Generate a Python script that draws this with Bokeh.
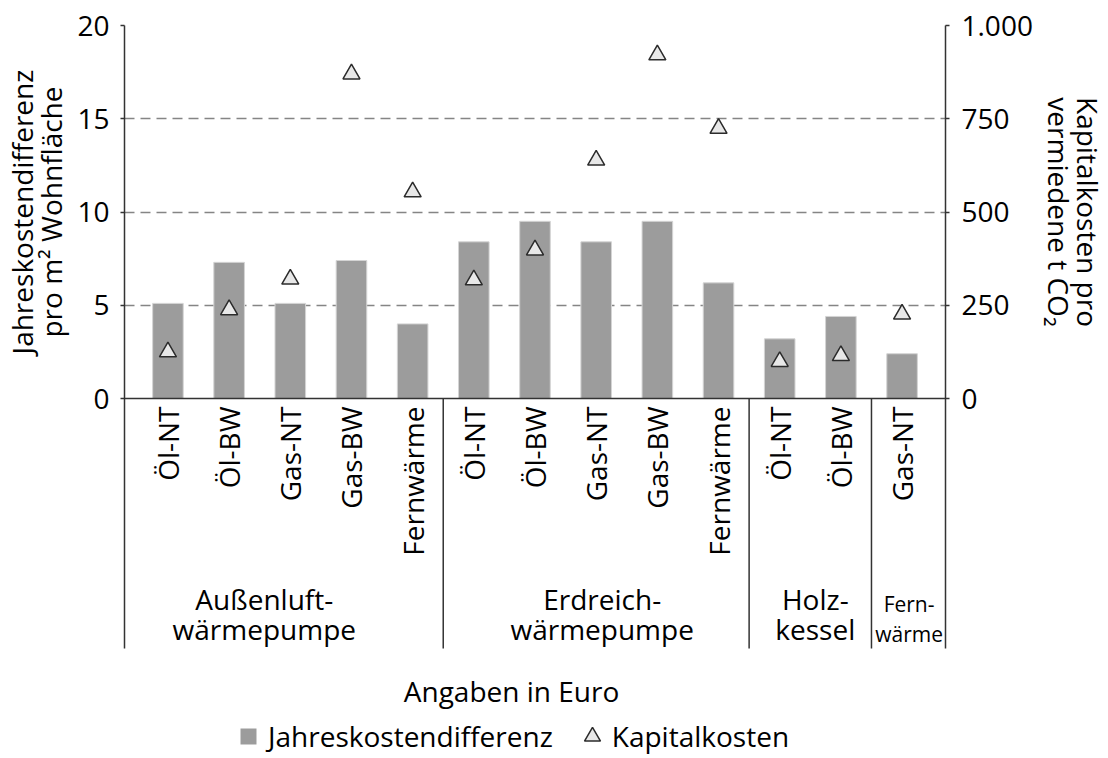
import math
from bokeh.plotting import figure
from bokeh.layouts import row
from bokeh.models import (FactorRange, Range1d, LinearAxis, FixedTicker, Span,
                          Label, Legend, LegendItem, ColumnDataSource)
from bokeh.core.properties import value
from bokeh.embed import file_html
from bokeh.resources import INLINE

# ---------------- data ----------------
groups = (["Außenluft-\nwärmepumpe"] * 5 + ["Erdreich-\nwärmepumpe"] * 5
          + ["Holz-\nkessel"] * 2 + ["Fern-\nwärme"])
heizungen = ["Öl-NT", "Öl-BW", "Gas-NT", "Gas-BW", "Fernwärme",
             "Öl-NT", "Öl-BW", "Gas-NT", "Gas-BW", "Fernwärme",
             "Öl-NT", "Öl-BW",
             "Gas-NT"]
jahreskostendifferenz = [5.1, 7.3, 5.1, 7.4, 4.0,
                         8.4, 9.5, 8.4, 9.5, 6.2,
                         3.2, 4.4,
                         2.4]
kapitalkosten = [125, 238, 320, 870, 554,
                 318, 398, 639, 921, 724,
                 99, 115,
                 226]
left_ticks = [0, 5, 10, 15, 20]
right_ticks = [0, 250, 500, 750, 1000]
right_tick_labels = ["0", "250", "500", "750", "1.000"]
left_title = "Jahreskostendifferenz\npro m² Wohnfläche"
right_title = "Kapitalkosten pro\nvermiedene t CO₂"
x_title = "Angaben in Euro"
legend_labels = ["Jahreskostendifferenz", "Kapitalkosten"]

# ---------------- layout constants (pixels) ----------------
FONT = "Open Sans"
FS = "28px"
AXIS_COLOR = "#333333"
BAR_COLOR = "#9c9c9c"
TRI_FILL = "#e8e8e8"
TRI_LINE = "#2b2b2b"
H = 756                    # total height
TOP = 25                   # frame top (value 20)
ZERO_PX = 398              # pixel row of value 0
SEP_PX = 648               # lower end of separators / axis lines
WL, WM, WR = 72, 968, 66   # widths: left title, main, right title
BL, BR = 52, 95            # borders of the main figure
HALF_PAD = 0.21
PXU = (ZERO_PX - TOP) / left_ticks[-1]          # pixels per unit (left axis)


def px_to_y(py):
    return (ZERO_PX - py) / PXU


Y_BOT = px_to_y(H)
Y_SEP = px_to_y(SEP_PX)
ratio = right_ticks[-1] / left_ticks[-1]

factors = list(zip(groups, heizungen))
source = ColumnDataSource(dict(x=factors, heizung=heizungen,
                               jk=jahreskostendifferenz, kk=kapitalkosten))

x_range = FactorRange(factors=factors, group_padding=0, factor_padding=0,
                      range_padding=HALF_PAD, range_padding_units="absolute")
y_range = Range1d(Y_BOT, left_ticks[-1])

# ================= main figure =================
p = figure(width=WM, height=H, x_range=x_range, y_range=y_range,
           output_backend="svg", toolbar_location=None, x_axis_location=None,
           min_border_left=BL, min_border_right=BR,
           min_border_top=TOP, min_border_bottom=0)
p.outline_line_color = None
p.extra_y_ranges = {"kap": Range1d(Y_BOT * ratio, right_ticks[-1])}

p.xgrid.visible = False
p.ygrid.ticker = FixedTicker(ticks=left_ticks[1:])
p.ygrid.grid_line_color = "#858585"
p.ygrid.grid_line_width = 1.5
p.ygrid.grid_line_dash = "10 6"


def style_axis(a, standoff):
    a.minor_tick_line_color = None
    a.major_tick_in = 0
    a.major_tick_out = 4
    a.axis_line_color = AXIS_COLOR
    a.axis_line_width = 1.5
    a.major_tick_line_color = AXIS_COLOR
    a.major_tick_line_width = 1.5
    a.major_label_text_font = FONT
    a.major_label_text_font_size = FS
    a.major_label_text_color = "black"
    a.major_label_standoff = standoff


ax = p.yaxis[0]
ax.ticker = FixedTicker(ticks=left_ticks)
ax.bounds = (Y_SEP, left_ticks[-1])
style_axis(ax, 11)

rax = LinearAxis(y_range_name="kap", ticker=FixedTicker(ticks=right_ticks),
                 major_label_overrides=dict(zip(right_ticks, right_tick_labels)),
                 bounds=(Y_SEP * ratio, right_ticks[-1]))
style_axis(rax, 12)
p.add_layout(rax, "right")

p.add_layout(Span(location=0, dimension="width", line_color=AXIS_COLOR, line_width=1.5))

bars = p.vbar(x="x", top="jk", width=0.5, source=source,
              fill_color=BAR_COLOR, line_color="#d4d4d4", line_width=1)
tri = p.scatter(x="x", y="kk", source=source, y_range_name="kap", marker="triangle",
                size=17, fill_color=TRI_FILL, line_color=TRI_LINE, line_width=1.5)

# separators between the groups
sep_x = [(groups[i], heizungen[i], 0.5) for i in range(len(groups) - 1)
         if groups[i] != groups[i + 1]]
p.segment(x0=sep_x, y0=[0] * len(sep_x), x1=sep_x, y1=[Y_SEP] * len(sep_x),
          line_color=AXIS_COLOR, line_width=1.5)

# category labels (rotated)
p.text(x="x", y=px_to_y(406), text="heizung", source=source, angle=math.pi / 2,
       text_align="right", text_baseline="middle",
       text_font=value(FONT), text_font_size=FS, text_color="black")

# group labels
unique_groups = list(dict.fromkeys(groups))
centers = []
for g in unique_groups:
    idx = [i for i, gg in enumerate(groups) if gg == g]
    centers.append((g, heizungen[idx[0]], (len(idx) - 1) / 2))
p.text(x=centers[:-1], y=[Y_SEP] * (len(centers) - 1), text=unique_groups[:-1],
       x_offset=[-26, 6, 5],
       text_align="center", text_baseline="bottom", text_line_height=0.81,
       text_font=value(FONT), text_font_size=FS, text_color="black")
p.text(x=centers[-1:], y=[Y_SEP], text=unique_groups[-1:], x_offset=7,
       text_align="center", text_baseline="bottom", text_line_height=1.08,
       text_font=value(FONT), text_font_size="21px", text_color="black")

p.add_layout(Label(x=387, y=px_to_y(690), x_units="screen", y_units="data",
                   text=x_title, text_align="center", text_baseline="middle",
                   text_font=FONT, text_font_size=FS, text_color="black"))

# legend (proxy renderers carry the styles of the plotted marks)
sq_proxy = p.scatter(x="x", y="jk", source=source, marker="square",
                     fill_color=BAR_COLOR, line_color=None, visible=False)
tri_proxy = p.scatter(x="x", y="kk", source=source, y_range_name="kap",
                      marker="triangle", fill_color=TRI_FILL, line_color=TRI_LINE,
                      line_width=1.5, visible=False)
legend = Legend(items=[LegendItem(label=legend_labels[0], renderers=[sq_proxy]),
                       LegendItem(label=legend_labels[1], renderers=[tri_proxy])],
                location=(104, 0), orientation="horizontal",
                glyph_width=40, glyph_height=40, label_standoff=0, spacing=19,
                label_text_font=FONT, label_text_font_size=FS,
                label_text_color="black", padding=0, margin=0,
                border_line_alpha=0, background_fill_alpha=0)
p.add_layout(legend)


# ================= side figures carrying the axis titles =================
def title_fig(width, text, angle):
    f = figure(width=width, height=H, x_range=Range1d(0, 1), y_range=y_range,
               output_backend="svg", toolbar_location=None,
               x_axis_location=None, y_axis_location=None,
               min_border_left=0, min_border_right=0,
               min_border_top=TOP, min_border_bottom=0)
    f.outline_line_color = None
    f.xgrid.visible = False
    f.ygrid.visible = False
    f.text(x=[0.5], y=[left_ticks[-1] / 2], text=[text], angle=angle,
           text_align="center", text_baseline="middle", text_line_height=0.76,
           text_font=value(FONT), text_font_size=FS, text_color="black")
    return f


pl = title_fig(WL, left_title, math.pi / 2)
pr = title_fig(WR, right_title, -math.pi / 2)

layout = row(pl, p, pr, spacing=0)
open("out.html", "w").write(file_html(layout, INLINE))
